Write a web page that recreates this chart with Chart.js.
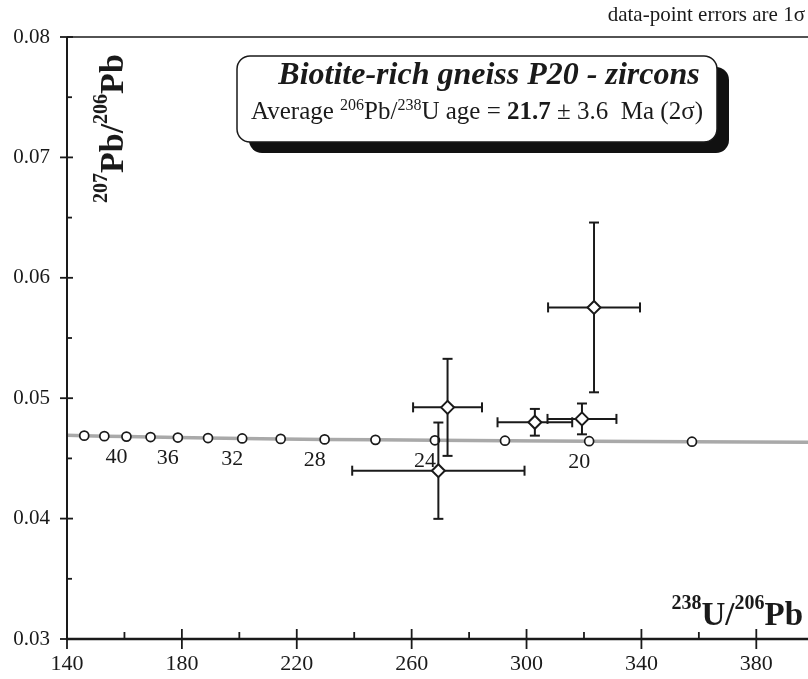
<!DOCTYPE html>
<html lang="en">
<head>
<meta charset="UTF-8"/>
<title>Biotite-rich gneiss P20 - zircons</title>
<script src="https://cdn.jsdelivr.net/npm/chart.js"></script>
<style>
  html, body { margin: 0; padding: 0; background: #fff; }
  #wrap { width: 808px; height: 679px; }
</style>
</head>
<body>
<div id="wrap"><canvas id="chart" width="808" height="679"></canvas></div>
<script>
// concordia (Tera-Wasserburg), marks every 2 Ma
const concAges = [44, 42, 40, 38, 36, 34, 32, 30, 28, 26, 24, 22, 20, 18];
const concX = [146.0, 153.0, 160.7, 169.1, 178.6, 189.1, 201.0, 214.4, 229.7, 247.4, 268.1, 292.5, 321.8, 357.6];
const concY = [0.04689, 0.04685, 0.04681, 0.04677, 0.04673, 0.04669, 0.04666, 0.04662, 0.04658, 0.04654, 0.04650, 0.04647, 0.04643, 0.04639];
const concLabelAges = [40, 36, 32, 28, 24, 20];
const curveEndX = [140, 398];
const curveEndY = [0.04692, 0.04635];

// zircon analyses (1 sigma)
const ptX    = [323.5, 272.5, 302.9, 319.3, 269.3];
const ptY    = [0.05754, 0.04924, 0.04800, 0.04828, 0.04398];
const ptXErr = [16.0, 12.0, 13.0, 12.0, 30.0];
const ptYErr = [0.00705, 0.00403, 0.00111, 0.00128, 0.00400];

const xTicks = [140, 180, 220, 260, 300, 340, 380];
const xMinor = [160, 200, 240, 280, 320, 360];
const yTicks = [0.03, 0.04, 0.05, 0.06, 0.07, 0.08];
const yMinor = [0.035, 0.045, 0.055, 0.065, 0.075];

const SERIF = "'Liberation Serif', 'Times New Roman', serif";
const INK = "#1a1a1a";

// text made of runs: [text, font, rise]
function drawRich(ctx, x, y, parts, align) {
  let w = 0;
  parts.forEach(p => { ctx.font = p[1]; w += ctx.measureText(p[0]).width; });
  let cx = align === "center" ? x - w / 2 : align === "right" ? x - w : x;
  ctx.textAlign = "left";
  ctx.textBaseline = "alphabetic";
  parts.forEach(p => {
    ctx.font = p[1];
    ctx.fillText(p[0], cx, y - (p[2] || 0));
    cx += ctx.measureText(p[0]).width;
  });
}

function line(ctx, x1, y1, x2, y2) {
  ctx.beginPath(); ctx.moveTo(x1, y1); ctx.lineTo(x2, y2); ctx.stroke();
}

const errorBars = {
  id: "errorBars",
  beforeDatasetDraw(chart, args) {
    if (args.index !== 0) return;
    const { ctx, scales: { x, y } } = chart;
    ctx.save();
    ctx.strokeStyle = INK;
    ctx.lineWidth = 2;
    const cap = 5;
    ptX.forEach((v, i) => {
      const px = x.getPixelForValue(v), py = y.getPixelForValue(ptY[i]);
      const xl = x.getPixelForValue(v - ptXErr[i]), xr = x.getPixelForValue(v + ptXErr[i]);
      const yt = y.getPixelForValue(ptY[i] + ptYErr[i]), yb = y.getPixelForValue(ptY[i] - ptYErr[i]);
      line(ctx, xl, py, xr, py);
      line(ctx, xl, py - cap, xl, py + cap);
      line(ctx, xr, py - cap, xr, py + cap);
      line(ctx, px, yt, px, yb);
      line(ctx, px - cap, yt, px + cap, yt);
      line(ctx, px - cap, yb, px + cap, yb);
    });
    ctx.restore();
  }
};

const decorations = {
  id: "decorations",
  afterDraw(chart) {
    const { ctx, chartArea: a, scales: { x, y } } = chart;
    ctx.save();
    ctx.strokeStyle = INK;
    ctx.fillStyle = INK;

    // frame + axes
    ctx.lineWidth = 1.5;
    line(ctx, a.left, a.top, a.right, a.top);
    ctx.lineWidth = 2;
    line(ctx, a.left, a.top, a.left, a.bottom + 1);
    ctx.lineWidth = 2.5;
    line(ctx, a.left - 1, a.bottom, a.right, a.bottom);

    ctx.lineWidth = 1.8;
    yTicks.forEach(v => { const p = y.getPixelForValue(v); line(ctx, a.left - 7, p, a.left + 6, p); });
    yMinor.forEach(v => { const p = y.getPixelForValue(v); line(ctx, a.left, p, a.left + 5, p); });
    xTicks.forEach(v => { const p = x.getPixelForValue(v); line(ctx, p, a.bottom - 10, p, a.bottom + 10); });
    xMinor.forEach(v => { const p = x.getPixelForValue(v); line(ctx, p, a.bottom - 7, p, a.bottom); });

    // concordia age labels
    ctx.font = "22px " + SERIF;
    ctx.textAlign = "center";
    ctx.textBaseline = "middle";
    concLabelAges.forEach(age => {
      const i = concAges.indexOf(age);
      ctx.fillText(String(age), x.getPixelForValue(concX[i]) - 10, y.getPixelForValue(concY[i]) + 21);
    });

    // axis titles
    const bold = s => "bold " + s + "px " + SERIF;
    drawRich(ctx, 803, 625, [["238", bold(20), 16], ["U/", bold(33)], ["206", bold(20), 16], ["Pb", bold(33)]], "right");
    ctx.save();
    ctx.translate(123, 203);
    ctx.rotate(-Math.PI / 2);
    drawRich(ctx, 0, 0, [["207", bold(20), 16], ["Pb/", bold(34)], ["206", bold(20), 16], ["Pb", bold(34)]], "left");
    ctx.restore();

    // note
    drawRich(ctx, 805, 21, [["data-point errors are 1\u03c3", "21px " + SERIF]], "right");

    // label box with drop shadow
    const bx = 237, by = 56, bw = 480, bh = 86, r = 13;
    ctx.beginPath();
    ctx.roundRect(bx + 12, by + 11, bw, bh, r);
    ctx.fillStyle = "#111";
    ctx.fill();
    ctx.beginPath();
    ctx.roundRect(bx, by, bw, bh, r);
    ctx.fillStyle = "#fff";
    ctx.fill();
    ctx.lineWidth = 1.5;
    ctx.stroke();
    ctx.fillStyle = INK;
    drawRich(ctx, 489, 84, [["Biotite-rich gneiss P20 - zircons", "italic bold 32px " + SERIF]], "center");
    const reg = "25px " + SERIF, sup = "16px " + SERIF;
    drawRich(ctx, 477, 119, [
      ["Average ", reg], ["206", sup, 9], ["Pb/", reg], ["238", sup, 9], ["U age = ", reg],
      ["21.7", "bold 25px " + SERIF], [" \u00b1 3.6  Ma (2\u03c3)", reg]
    ], "center");
    ctx.restore();
  }
};

const curvePts = [{ x: curveEndX[0], y: curveEndY[0] }]
  .concat(concX.map((v, i) => ({ x: v, y: concY[i] })))
  .concat([{ x: curveEndX[1], y: curveEndY[1] }]);

new Chart(document.getElementById("chart").getContext("2d"), {
  type: "scatter",
  data: {
    datasets: [
      {
        label: "zircons",
        data: ptX.map((v, i) => ({ x: v, y: ptY[i] })),
        pointStyle: "rectRot",
        pointRadius: 6.5,
        backgroundColor: "#fff",
        borderColor: INK,
        borderWidth: 2
      },
      {
        label: "concordia marks",
        data: concX.map((v, i) => ({ x: v, y: concY[i] })),
        pointStyle: "circle",
        pointRadius: 4.5,
        backgroundColor: "#fff",
        borderColor: INK,
        borderWidth: 1.7
      },
      {
        type: "line",
        label: "concordia",
        data: curvePts,
        borderColor: "#a9a9a9",
        borderWidth: 3.5,
        pointRadius: 0,
        tension: 0,
        fill: false
      }
    ]
  },
  options: {
    responsive: false,
    devicePixelRatio: 1,
    animation: false,
    layout: { autoPadding: false, padding: { top: 37, right: 0, bottom: 0, left: 0 } },
    plugins: { legend: { display: false }, tooltip: { enabled: false } },
    scales: {
      x: {
        type: "linear", min: 140, max: 398,
        grid: { display: false, drawTicks: false },
        border: { display: false },
        ticks: { font: { family: SERIF, size: 22 }, color: INK, padding: 12, autoSkip: false, maxRotation: 0,
                 callback: v => String(v) },
        afterBuildTicks: s => { s.ticks = xTicks.map(v => ({ value: v })); },
        afterFit: s => { s.height = 40; s.paddingLeft = 0; s.paddingRight = 0; }
      },
      y: {
        type: "linear", min: 0.03, max: 0.08,
        grid: { display: false, drawTicks: false },
        border: { display: false },
        ticks: { font: { family: SERIF, size: 21 }, color: INK, padding: 17, autoSkip: false,
                 callback: v => v.toFixed(2) },
        afterBuildTicks: s => { s.ticks = yTicks.map(v => ({ value: v })); },
        afterFit: s => { s.width = 67; s.paddingTop = 0; s.paddingBottom = 0; }
      }
    }
  },
  plugins: [errorBars, decorations]
});
</script>
</body>
</html>
